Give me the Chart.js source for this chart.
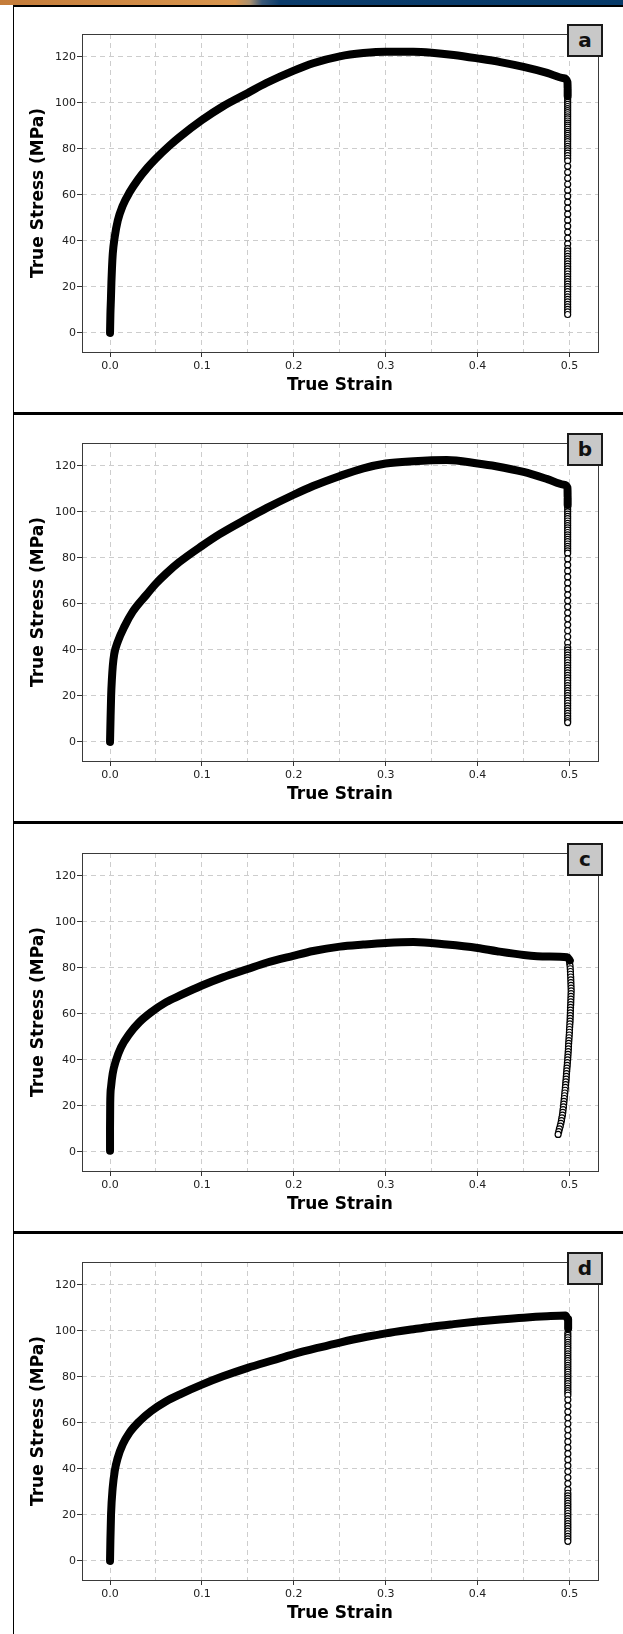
<!DOCTYPE html>
<html>
<head>
<meta charset="utf-8">
<script src="https://cdn.jsdelivr.net/npm/chart.js@4.4.1/dist/chart.umd.min.js"></script>
<style>
  html, body { margin: 0; padding: 0; background: #fff; }
  body { position: relative; width: 623px; height: 1634px; overflow: hidden; font-family: "DejaVu Sans", sans-serif; }
  .strip { position: absolute; left: 0; top: 0; width: 623px; height: 5px;
    background: linear-gradient(90deg, #c47c3a 0px, #d9964f 235px, #a89070 250px, #3a5878 262px, #0b3c6b 280px, #073a69 623px); }
  .rule { position: absolute; left: 13px; right: 0; background: #000; }
  .edge { position: absolute; left: 13px; top: 5px; bottom: 0; width: 1px; background: #000; }
  canvas { position: absolute; left: 0; }
  .tag { position: absolute; left: 567px; width: 36px; height: 33px; box-sizing: border-box;
    border: 2px solid #1a1a1a; background: #c8c8c8; color: #111;
    font: bold 20px "DejaVu Sans", sans-serif; line-height: 28px; text-align: center; z-index: 2; }
</style>
</head>
<body>
<div class="strip"></div>
<div class="edge"></div>
<script>
// axis ticks
const strainTicks = [0, 0.05, 0.1, 0.15, 0.2, 0.25, 0.3, 0.35, 0.4, 0.45, 0.5];
const strainLabels = ['0.0', '', '0.1', '', '0.2', '', '0.3', '', '0.4', '', '0.5'];
const stressTicks = [0, 20, 40, 60, 80, 100, 120];
const stressLabels = ['0', '20', '40', '60', '80', '100', '120'];

const panelLetters = ['a', 'b', 'c', 'd'];
const panelTops = [5, 414, 824, 1233];
const ruleTops = [5, 412, 821, 1231];

// dense part of each test: [true strain, true stress MPa]
const curveA = [
  [0, 0], [0.0004, 8], [0.001, 15], [0.0015, 22], [0.0021, 28], [0.003, 34.5], [0.0051, 41.7],
  [0.0084, 48.8], [0.0138, 55.3], [0.0211, 61], [0.0302, 66.5], [0.041, 71.9], [0.05, 75.8],
  [0.0647, 81.4], [0.0756, 85.1], [0.1, 92.5], [0.123, 98.5], [0.15, 104.3], [0.17, 108.6],
  [0.2, 114], [0.221, 117.2], [0.25, 120.2], [0.2756, 121.6], [0.3, 122.2], [0.33, 122.2],
  [0.35, 121.8], [0.374, 120.8], [0.4, 119.3], [0.4247, 117.7], [0.45, 115.6], [0.4756, 113],
  [0.4938, 110.7], [0.4978, 109], [0.498, 106], [0.498, 103]
];
const curveB = [
  [0, 0], [0.0005, 9], [0.0012, 20], [0.002, 27], [0.003, 33], [0.0045, 38], [0.0084, 43.5],
  [0.0156, 50.1], [0.0247, 56.6], [0.0393, 63.8], [0.0502, 68.9], [0.0611, 73.2], [0.0756, 78.2],
  [0.1, 85.2], [0.1193, 90.3], [0.1498, 97.2], [0.1702, 101.6], [0.1993, 107.3], [0.221, 111.2],
  [0.2502, 115.6], [0.2756, 118.9], [0.3, 121], [0.3302, 122], [0.3665, 122.5], [0.4, 121],
  [0.42, 119.8], [0.45, 117.3], [0.476, 114.2], [0.494, 111.8], [0.4978, 110.5], [0.498, 106], [0.498, 103]
];
const curveC = [
  [0, 0.5], [0, 10], [0.0002, 21], [0.0011, 28.2], [0.0029, 34], [0.0065, 39.8], [0.012, 45.5],
  [0.0211, 51.3], [0.032, 56.4], [0.0447, 60.7], [0.0611, 65.1], [0.0756, 67.9], [0.1, 72.3],
  [0.1229, 75.9], [0.1498, 79.5], [0.1702, 82.2], [0.1993, 85.2], [0.2211, 87.3], [0.2502, 89.2],
  [0.2756, 90.1], [0.3, 90.8], [0.3302, 91.2], [0.3665, 90.1], [0.4, 88.6], [0.4211, 87.2],
  [0.4502, 85.6], [0.4756, 84.9], [0.4975, 84.6], [0.5003, 83.2]
];
const curveD = [
  [0, 0], [0.0004, 9], [0.0011, 20.2], [0.0029, 31.8], [0.0051, 39], [0.0084, 44.8], [0.0138, 50.6],
  [0.0211, 55.7], [0.032, 60.7], [0.0447, 65.1], [0.0611, 69.4], [0.0756, 72.3], [0.1, 76.6],
  [0.1229, 80.2], [0.1498, 83.9], [0.1775, 87.2], [0.1993, 89.8], [0.2284, 92.8], [0.2502, 94.9],
  [0.2793, 97.4], [0.3, 98.9], [0.3302, 100.7], [0.3498, 101.8], [0.3738, 102.9], [0.4, 104],
  [0.4247, 104.9], [0.4502, 105.7], [0.4756, 106.3], [0.4956, 106.6], [0.4985, 105], [0.4985, 101]
];

// fracture drop, plotted as open markers
const dropStrainA = 0.498;
const dropStressA = [102, 101.1, 100.2, 99.3, 98.4, 97.5, 96.6, 95.7, 94.8, 93.9, 93, 92.1, 91.2, 90.3,
  89.4, 88.5, 87.6, 86.7, 85.8, 84.9, 84, 83.1, 82.1, 81.1, 80.1, 79.1, 78.1, 77, 75.9, 74.8,
  72.4, 69.8, 67.2, 64.6, 62, 59.4, 56.8, 54.2, 51.6, 49, 46.4, 43.8, 41.2, 38.7,
  36.6, 35.5, 34.4, 33.3, 32.2, 31.1, 30, 28.9, 27.8, 26.7, 25.6, 24.5, 23.4, 22.3, 21.2, 20.1,
  19, 17.9, 16.8, 15.7, 14.6, 13.5, 12.4, 11.3, 10.2, 9.1, 8];

const dropStrainB = 0.498;
const dropStressB = [102, 101, 100, 99, 98, 97, 96, 95, 94, 93, 92, 91, 90, 89, 88, 87, 86, 85, 84, 83, 82,
  79.5, 76.9, 74.3, 71.7, 69.1, 66.5, 63.9, 61.3, 58.7, 56.1, 53.5, 50.9, 48.3, 45.7, 43.1,
  41, 39.9, 38.8, 37.7, 36.6, 35.5, 34.4, 33.3, 32.2, 31.1, 30, 28.9, 27.8, 26.7, 25.6, 24.5,
  23.4, 22.3, 21.2, 20.1, 19, 17.9, 16.8, 15.7, 14.6, 13.5, 12.4, 11.3, 10.2, 9.2, 8.4];

const dropStrainC = [0.5002, 0.5006, 0.5008, 0.501, 0.5011, 0.5013, 0.5014, 0.5015, 0.5016, 0.5017,
  0.5018, 0.5017, 0.5016, 0.5015, 0.5014, 0.5013, 0.5011, 0.501, 0.5009, 0.5008, 0.5007, 0.5006,
  0.5004, 0.5002, 0.5, 0.4999, 0.4997, 0.4995, 0.4993, 0.4991, 0.4989, 0.4988, 0.4986, 0.4984,
  0.4982, 0.498, 0.4977, 0.4975, 0.4972, 0.497, 0.4967, 0.4965, 0.4963, 0.496, 0.4958, 0.4955,
  0.4952, 0.4949, 0.4946, 0.4943, 0.494, 0.4937, 0.4934, 0.493, 0.4927, 0.4923, 0.4917, 0.4912,
  0.4906, 0.4899, 0.489, 0.4883, 0.4876];
const dropStressC = [82, 80.8, 79.6, 78.4, 77.2, 76, 74.8, 73.6, 72.4, 71.2, 70, 68.8, 67.6, 66.4,
  65.2, 64, 62.8, 61.6, 60.4, 59.2, 58, 56.8, 55.6, 54.4, 53.2, 52, 50.8, 49.6, 48.4, 47.2, 46,
  44.8, 43.6, 42.4, 41.2, 40, 38.8, 37.6, 36.4, 35.2, 34, 32.8, 31.6, 30.4, 29.2, 28, 26.8, 25.6,
  24.4, 23.2, 22, 20.8, 19.6, 18.4, 17.2, 16, 14.8, 13.6, 12.4, 11.2, 10, 8.8, 7.6];

const dropStrainD = 0.4982;
const dropStressD = [99, 98, 97, 96, 95, 94, 93, 92, 91, 90, 89, 88, 87, 86, 85, 84, 83, 82, 81, 80,
  79, 78, 77, 76, 75, 74, 73, 72, 70, 67.4, 64.8, 62.2, 59.6, 57, 54.4, 51.8, 49.2, 46.6, 44,
  41.4, 38.8, 36.2, 33.6, 31, 29.4, 28.3, 27.2, 26.1, 25, 23.9, 22.8, 21.7, 20.6, 19.5, 18.4,
  17.3, 16.2, 15.1, 14, 12.9, 11.8, 10.7, 9.6, 8.5];

const curves = [curveA, curveB, curveC, curveD];
const dropStrains = [dropStrainA, dropStrainB, dropStrainC, dropStrainD];
const dropStresses = [dropStressA, dropStressB, dropStressC, dropStressD];

Chart.defaults.font.family = '"DejaVu Sans", sans-serif';

// box around the plot area
const plotFrame = {
  id: 'plotFrame',
  afterDatasetsDraw(chart) {
    const { ctx, chartArea: a } = chart;
    ctx.save();
    ctx.strokeStyle = '#3a3a3a';
    ctx.lineWidth = 1;
    ctx.strokeRect(Math.round(a.left) + 0.5, Math.round(a.top) + 0.5,
      Math.round(a.right - a.left), Math.round(a.bottom - a.top));
    ctx.restore();
  }
};

ruleTops.forEach((t, i) => {
  const r = document.createElement('div');
  r.className = 'rule';
  r.style.top = t + 'px';
  r.style.height = (i === 0 ? 2 : 3) + 'px';
  document.body.appendChild(r);
});

panelLetters.forEach((letter, i) => {
  const canvas = document.createElement('canvas');
  canvas.width = 623;
  canvas.height = 409;
  canvas.style.top = panelTops[i] + 'px';
  document.body.appendChild(canvas);

  const tag = document.createElement('div');
  tag.className = 'tag';
  tag.style.top = (panelTops[i] + 19) + 'px';
  tag.textContent = letter;
  document.body.appendChild(tag);

  const ds = dropStrains[i];
  const drop = dropStresses[i].map((s, k) => ({ x: Array.isArray(ds) ? ds[k] : ds, y: s }));

  new Chart(canvas, {
    type: 'scatter',
    data: {
      datasets: [
        {
          data: curves[i].map(p => ({ x: p[0], y: p[1] })),
          showLine: true,
          borderColor: '#000',
          borderWidth: 8,
          borderCapStyle: 'round',
          borderJoinStyle: 'round',
          cubicInterpolationMode: 'monotone',
          pointRadius: 0,
          order: 0
        },
        {
          data: drop,
          showLine: false,
          pointRadius: 3,
          pointBorderWidth: 1.2,
          pointBackgroundColor: '#fff',
          pointBorderColor: '#000',
          order: 1
        }
      ]
    },
    options: {
      responsive: false,
      animation: false,
      devicePixelRatio: 1,
      layout: { padding: { top: 29, right: 25, bottom: 0, left: 0 } },
      plugins: { legend: { display: false }, tooltip: { enabled: false } },
      scales: {
        x: {
          type: 'linear',
          min: -0.0305,
          max: 0.531,
          afterBuildTicks: s => { s.ticks = strainTicks.map(v => ({ value: v })); },
          afterFit: s => { s.height = 62; },
          grid: {
            color: '#cdcdcd',
            lineWidth: 1,
            tickLength: 5,
            tickColor: c => strainLabels[c.index] ? '#333' : 'rgba(0,0,0,0)',
            tickBorderDash: []
          },
          border: { display: false, dash: [5, 4] },
          ticks: {
            callback: (v, k) => strainLabels[k],
            autoSkip: false,
            maxRotation: 0,
            padding: 3,
            color: '#222',
            font: { size: 11 }
          },
          title: {
            display: true,
            text: 'True Strain',
            color: '#000',
            font: { size: 17, weight: 'bold' },
            padding: { top: 0, bottom: 18 }
          }
        },
        y: {
          min: -8.3,
          max: 129.9,
          afterBuildTicks: s => { s.ticks = stressTicks.map(v => ({ value: v })); },
          afterFit: s => { s.width = 82; },
          grid: {
            color: '#cdcdcd',
            lineWidth: 1,
            tickLength: 5,
            tickColor: '#333',
            tickBorderDash: []
          },
          border: { display: false, dash: [5, 4] },
          ticks: {
            callback: (v, k) => stressLabels[k],
            autoSkip: false,
            padding: 1,
            color: '#222',
            font: { size: 11 }
          },
          title: {
            display: true,
            text: 'True Stress (MPa)',
            color: '#000',
            font: { size: 17, weight: 'bold' },
            padding: { top: 28, bottom: 0 }
          }
        }
      }
    },
    plugins: [plotFrame]
  });
});
</script>
</body>
</html>
